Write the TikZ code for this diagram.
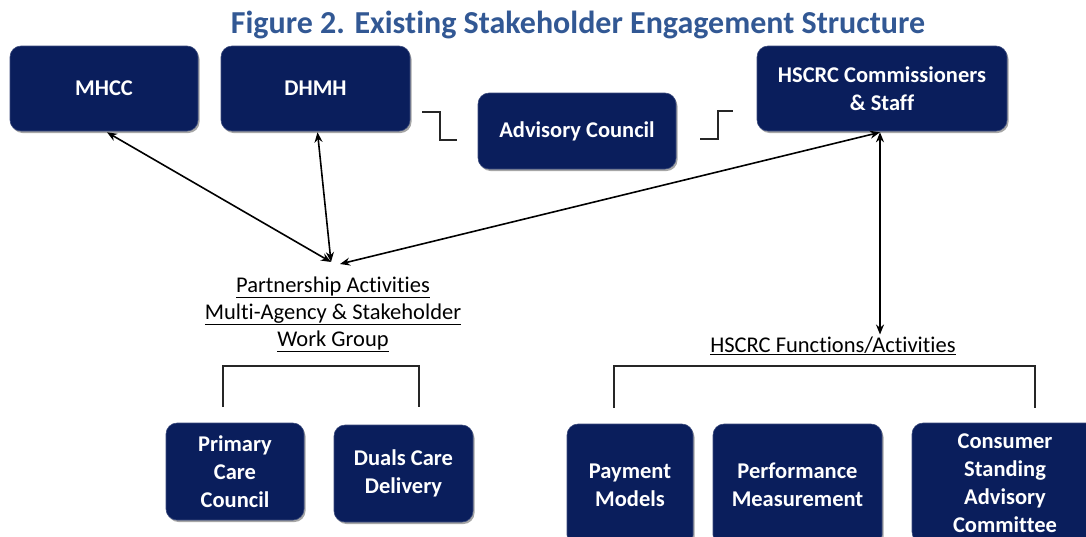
\documentclass[tikz,border=0pt]{standalone}
\usepackage{fontspec}
\setmainfont{Carlito}[Ligatures=NoCommon]
\usetikzlibrary{arrows.meta,shadows}
\definecolor{navy}{RGB}{10,30,92}
\definecolor{titleblue}{RGB}{50,88,148}
\begin{document}
\begin{tikzpicture}[x=1pt,y=-1pt,
  box/.style={draw=navy!80!white, line width=0.6pt, fill=navy, rounded corners=11pt, text=white,
    font=\fontsize{22.5}{28}\selectfont\bfseries, align=center, inner sep=0pt,
    drop shadow={shadow xshift=1.5pt, shadow yshift=-2pt, opacity=0.35, fill=black}},
  lbl/.style={font=\fontsize{22.5}{27}\selectfont, align=center, inner sep=2pt},
  link/.style={line width=1.6pt, {Stealth[length=10pt,width=8pt]}-{Stealth[length=10pt,width=8pt]}},
  brk/.style={line width=1.3pt, draw=black!85},
  zig/.style={line width=2pt, draw=black!85}]
\useasboundingbox (0,0) rectangle (1086,536);
\begin{scope}
\clip (0,0) rectangle (1086,536);
\node[font=\fontsize{32}{34}\selectfont\bfseries, text=titleblue] (title) at (578,25) {Figure 2. Existing Stakeholder Engagement Structure};

\node[box, minimum width=188pt, minimum height=85pt] (mhcc) at (104,88.5) {MHCC};
\node[box, minimum width=189pt, minimum height=85pt] (dhmh) at (315.5,88.5) {DHMH};
\node[box, minimum width=198pt, minimum height=76pt] (adv) at (577,131) {Advisory Council};
\node[box, minimum width=250pt, minimum height=85pt] (hscrc) at (882,88.5) {HSCRC Commissioners\\\& Staff};

\node[lbl] (pa) at (333,314) {\underline{Partnership Activities}\\\underline{Multi-Agency \& Stakeholder}\\\underline{Work Group}};
\node[lbl] (hf) at (833,346) {\underline{HSCRC Functions/Activities}};

\node[box, minimum width=138pt, minimum height=97pt] (pcc) at (235,471.5) {Primary\\Care\\Council};
\node[box, minimum width=139pt, minimum height=97pt] (dcd) at (403.5,473.5) {Duals Care\\Delivery};
\node[box, minimum width=126pt, minimum height=122pt] (pm) at (630,485) {Payment\\Models};
\node[box, minimum width=169pt, minimum height=122pt] (perf) at (797.5,485) {Performance\\Measurement};
\node[box, minimum width=186pt, minimum height=120pt] (csac) at (1005,483) {Consumer\\Standing\\Advisory\\Committee};

% zigzags
\coordinate (z1a) at (422,112); \coordinate (z1b) at (440,112);
\coordinate (z1c) at (440,140); \coordinate (z1d) at (457,140);
\draw[zig] (z1a) -- (z1b) -- (z1c) -- (z1d);
\coordinate (z2a) at (700,139); \coordinate (z2b) at (718,139);
\coordinate (z2c) at (718,111); \coordinate (z2d) at (733,111);
\draw[zig] (z2a) -- (z2b) -- (z2c) -- (z2d);

% arrows
\coordinate (t1) at (331,262);
\coordinate (t2) at (340,264);
\draw[link] ([xshift=3pt,yshift=-1pt]mhcc.south) -- (t1);
\draw[link] ([xshift=2pt,yshift=-1pt]dhmh.south) -- (t1);
\draw[link] ([xshift=-2pt,yshift=-1pt]hscrc.south) -- (t2);
\draw[link] ([xshift=-2pt,yshift=-1pt]hscrc.south) -- ([xshift=-2pt]hscrc.south |- hf.north);

% brackets
\coordinate (b1a) at (223,407); \coordinate (b1b) at (223,366);
\coordinate (b1c) at (419,366); \coordinate (b1d) at (419,407);
\draw[brk] (b1a) -- (b1b) -- (b1c) -- (b1d);
\coordinate (b2a) at (614,408); \coordinate (b2b) at (614,366);
\coordinate (b2c) at (1035,366); \coordinate (b2d) at (1035,408);
\draw[brk] (b2a) -- (b2b) -- (b2c) -- (b2d);
\end{scope}
\end{tikzpicture}
\end{document}
